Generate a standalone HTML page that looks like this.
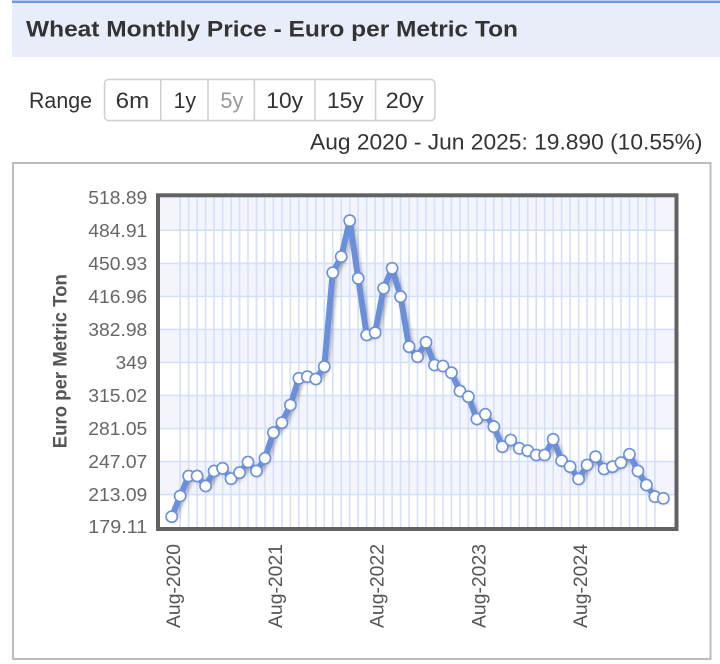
<!DOCTYPE html>
<html><head><meta charset="utf-8">
<style>
html,body{margin:0;padding:0;background:#fff;}
svg{display:block;}
text{font-family:"Liberation Sans",Arial,sans-serif;}
</style></head>
<body>
<svg width="720" height="664" viewBox="0 0 720 664" xmlns="http://www.w3.org/2000/svg">
<defs>
<filter id="sh" x="-5%" y="-5%" width="110%" height="115%">
<feDropShadow dx="2" dy="2.5" stdDeviation="1.6" flood-color="#000" flood-opacity="0.28"/>
</filter>
</defs>
<rect x="0" y="0" width="720" height="664" fill="#fff"/>
<!-- header -->
<rect x="12" y="2" width="708" height="55" fill="#e9edf9"/>
<rect x="12" y="0.5" width="708" height="2.5" fill="#7096de"/>
<text x="26" y="36.7" font-size="22" font-weight="bold" fill="#333" textLength="492" lengthAdjust="spacingAndGlyphs">Wheat Monthly Price - Euro per Metric Ton</text>

<!-- range selector -->
<text x="29" y="108" font-size="22" fill="#333" textLength="63" lengthAdjust="spacingAndGlyphs">Range</text>
<rect x="104.5" y="79.5" width="330.5" height="41" rx="4" fill="#fff" stroke="#cfcfcf" stroke-width="1.5"/>
<g stroke="#cfcfcf" stroke-width="1.5">
<line x1="160.7" y1="80" x2="160.7" y2="120"/>
<line x1="208" y1="80" x2="208" y2="120"/>
<line x1="254.4" y1="80" x2="254.4" y2="120"/>
<line x1="315" y1="80" x2="315" y2="120"/>
<line x1="375.6" y1="80" x2="375.6" y2="120"/>
</g>
<g font-size="22" fill="#333">
<text x="115.7" y="108" textLength="33.5" lengthAdjust="spacingAndGlyphs">6m</text>
<text x="173.6" y="108" textLength="22.5" lengthAdjust="spacingAndGlyphs">1y</text>
<text x="220.4" y="108" textLength="23" lengthAdjust="spacingAndGlyphs" fill="#999">5y</text>
<text x="266.3" y="108" textLength="36.7" lengthAdjust="spacingAndGlyphs">10y</text>
<text x="327" y="108" textLength="36.7" lengthAdjust="spacingAndGlyphs">15y</text>
<text x="385.7" y="108" textLength="38" lengthAdjust="spacingAndGlyphs">20y</text>
</g>
<text x="310" y="149.3" font-size="22" fill="#333" textLength="392.5" lengthAdjust="spacingAndGlyphs">Aug 2020 - Jun 2025: 19.890 (10.55%)</text>

<!-- chart box -->
<rect x="13" y="163" width="697.5" height="496" fill="#fff" stroke="#bdbdbd" stroke-width="2"/>

<!-- plot bands -->
<rect x="160" y="197.3" width="514.5" height="329.7" fill="#fff"/>
<g fill="#f4f5fc">
<rect x="160" y="197.3" width="514.5" height="33"/>
<rect x="160" y="263.4" width="514.5" height="33"/>
<rect x="160" y="329.4" width="514.5" height="33.1"/>
<rect x="160" y="395.5" width="514.5" height="33"/>
<rect x="160" y="461.5" width="514.5" height="33.1"/>
</g>
<!-- vertical grid -->
<g id="vg" stroke="#d3e0fa" stroke-width="1.6"></g>
<!-- horizontal grid -->
<g stroke="#d3e0fa" stroke-width="1.6">
<line x1="160" y1="230.3" x2="674.5" y2="230.3"/>
<line x1="160" y1="263.4" x2="674.5" y2="263.4"/>
<line x1="160" y1="296.4" x2="674.5" y2="296.4"/>
<line x1="160" y1="329.4" x2="674.5" y2="329.4"/>
<line x1="160" y1="362.5" x2="674.5" y2="362.5"/>
<line x1="160" y1="395.5" x2="674.5" y2="395.5"/>
<line x1="160" y1="428.5" x2="674.5" y2="428.5"/>
<line x1="160" y1="461.5" x2="674.5" y2="461.5"/>
<line x1="160" y1="494.6" x2="674.5" y2="494.6"/>
</g>

<g id="series"></g>

<!-- plot border -->
<rect x="158" y="195.3" width="518.5" height="333.7" fill="none" stroke="#626262" stroke-width="4"/>

<!-- y tick labels -->
<g font-size="18" fill="#666" text-anchor="end">
<text x="147.3" y="203.8" textLength="59" lengthAdjust="spacingAndGlyphs">518.89</text>
<text x="147.3" y="236.8" textLength="59" lengthAdjust="spacingAndGlyphs">484.91</text>
<text x="147.3" y="269.9" textLength="59" lengthAdjust="spacingAndGlyphs">450.93</text>
<text x="147.3" y="302.9" textLength="59" lengthAdjust="spacingAndGlyphs">416.96</text>
<text x="147.3" y="335.9" textLength="59" lengthAdjust="spacingAndGlyphs">382.98</text>
<text x="147.3" y="369" textLength="31.7" lengthAdjust="spacingAndGlyphs">349</text>
<text x="147.3" y="402" textLength="59" lengthAdjust="spacingAndGlyphs">315.02</text>
<text x="147.3" y="435" textLength="59" lengthAdjust="spacingAndGlyphs">281.05</text>
<text x="147.3" y="468" textLength="59" lengthAdjust="spacingAndGlyphs">247.07</text>
<text x="147.3" y="501.1" textLength="59" lengthAdjust="spacingAndGlyphs">213.09</text>
<text x="147.3" y="533" textLength="59" lengthAdjust="spacingAndGlyphs">179.11</text>
</g>

<!-- y axis title -->
<text transform="translate(66.7,361.2) rotate(-90)" font-size="19" font-weight="bold" fill="#555" text-anchor="middle" textLength="174" lengthAdjust="spacingAndGlyphs">Euro per Metric Ton</text>

<!-- x labels -->
<g font-size="19" fill="#555" text-anchor="end">
<text transform="translate(180.2,544) rotate(-90)" textLength="84" lengthAdjust="spacingAndGlyphs">Aug-2020</text>
<text transform="translate(281.9,544) rotate(-90)" textLength="84" lengthAdjust="spacingAndGlyphs">Aug-2021</text>
<text transform="translate(383.6,544) rotate(-90)" textLength="84" lengthAdjust="spacingAndGlyphs">Aug-2022</text>
<text transform="translate(485.3,544) rotate(-90)" textLength="84" lengthAdjust="spacingAndGlyphs">Aug-2023</text>
<text transform="translate(587,544) rotate(-90)" textLength="84" lengthAdjust="spacingAndGlyphs">Aug-2024</text>
</g>
</svg>
<script>
(function(){
var NS="http://www.w3.org/2000/svg";
var x0=171.7, step=8.477;
var ys=[516.7,496,476,476,486,471,468.3,478.7,472.7,462,471,458.3,432.7,422.7,405,378.3,376.7,379,366.7,272.7,256.7,220.7,278.3,335,332.7,288.3,268.3,296.7,346.7,356.7,342.3,365,366,372.7,391,396.7,419,414.3,426.7,446.7,440,448.3,450.7,455,455,439.3,460.7,466.7,479,465,456.7,469,466.7,462.7,454.3,471,485,496.7,498.3];
var vg=document.getElementById("vg");
for(var i=1;i<=57;i++){
 var l=document.createElementNS(NS,"line");
 var x=(x0+i*step).toFixed(2);
 l.setAttribute("x1",x);l.setAttribute("x2",x);
 l.setAttribute("y1","197.3");l.setAttribute("y2","527");
 vg.appendChild(l);
}
var s=document.getElementById("series");
var pts=[];
for(var j=0;j<ys.length;j++){pts.push((x0+j*step).toFixed(2)+","+ys[j]);}
var pl=document.createElementNS(NS,"polyline");
pl.setAttribute("points",pts.join(" "));
pl.setAttribute("fill","none");
pl.setAttribute("stroke","#6a8fdb");
pl.setAttribute("stroke-width","6");
pl.setAttribute("stroke-linejoin","round");
pl.setAttribute("stroke-linecap","round");
pl.setAttribute("filter","url(#sh)");
s.appendChild(pl);
for(var k=0;k<ys.length;k++){
 var c=document.createElementNS(NS,"circle");
 c.setAttribute("cx",(x0+k*step).toFixed(2));
 c.setAttribute("cy",ys[k]);
 c.setAttribute("r","5.6");
 c.setAttribute("fill","#fff");
 c.setAttribute("stroke","#6a8fdb");
 c.setAttribute("stroke-width","1.6");
 s.appendChild(c);
}
})();
</script>
</body></html>
